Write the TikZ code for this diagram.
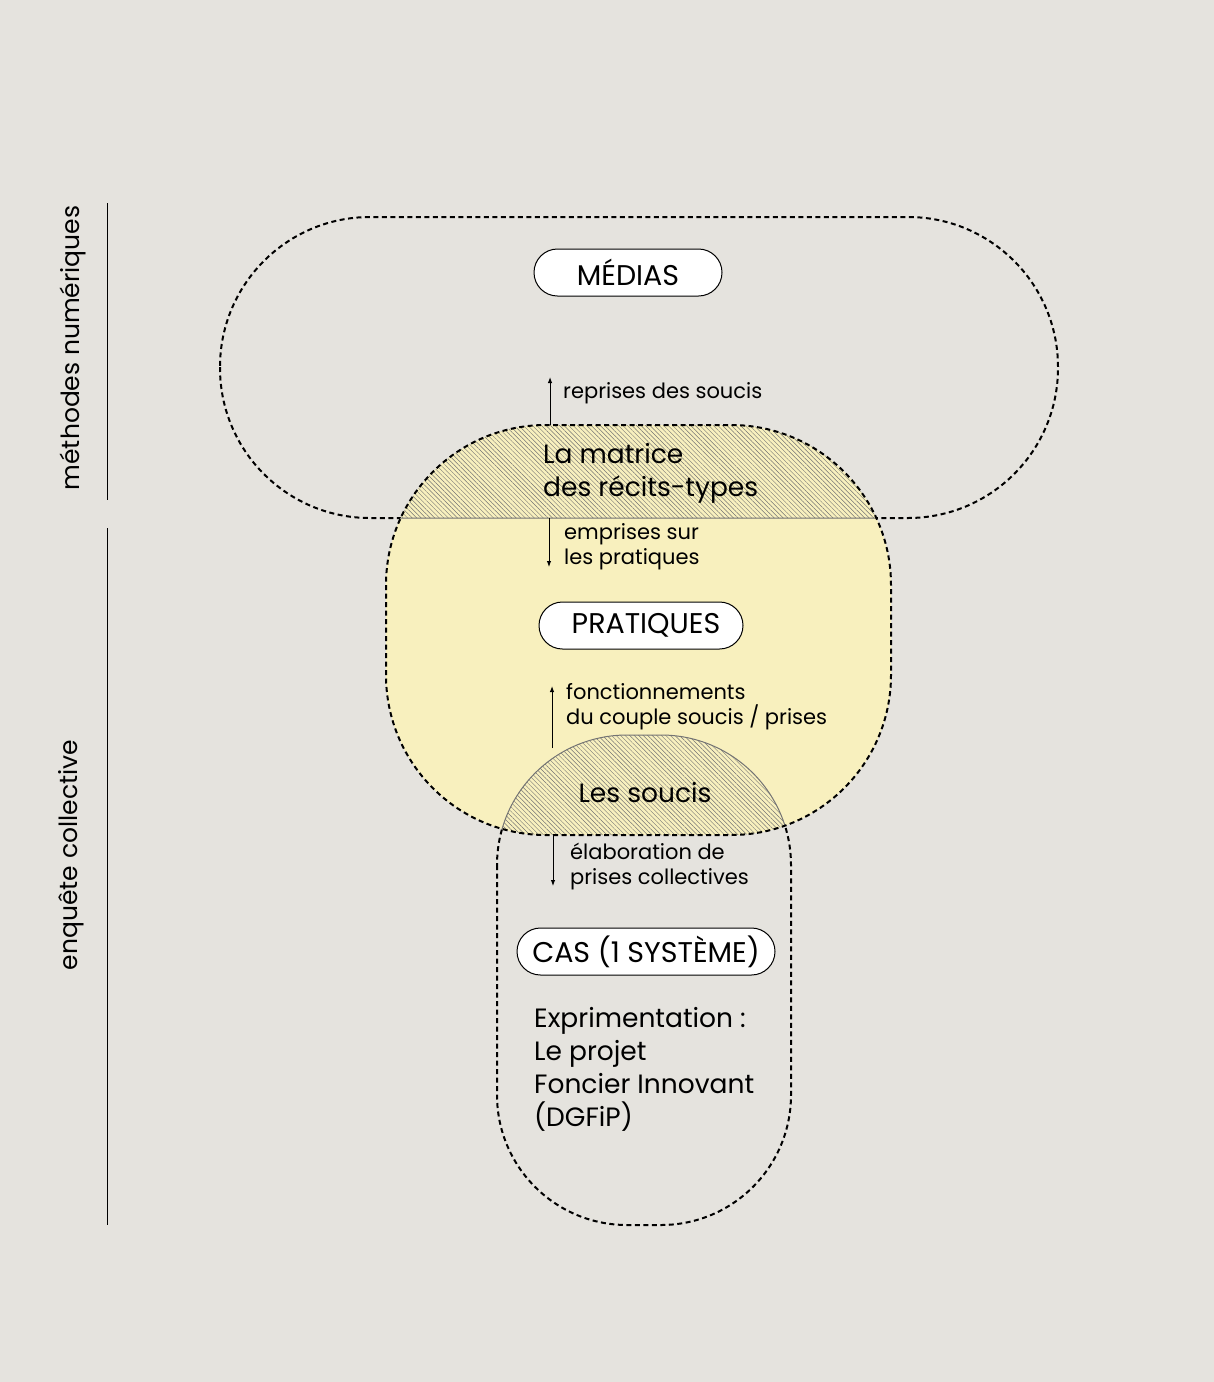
\documentclass[tikz,border=0pt]{standalone}
\usepackage{fontspec}
\setmainfont{Poppins}
\usetikzlibrary{positioning,arrows.meta,patterns.meta}
\definecolor{paper}{RGB}{229,227,222}
\definecolor{pale}{RGB}{248,240,190}

\begin{document}
\begin{tikzpicture}[
        x=1pt, y=-1pt,
        node distance=6pt,
        >={Latex[length=6pt,width=4.5pt]},
        outline/.style={draw=black, line width=2pt, dash pattern=on 5pt off 3.5pt},
        seam/.style={draw=black!55, line width=1pt},
        hatch/.style={pattern={Lines[angle=-45, distance=3.2pt, line width=0.45pt]}, pattern color=black!55},
        topzone/.style={rounded corners=150pt},
        midzone/.style={rounded corners=160pt},
        lowzone/.style={rounded corners=130pt},
        pill/.style={rectangle, rounded corners=23.5pt, draw=black, line width=1pt, fill=white, minimum height=47pt, inner sep=0pt, font=\fontsize{28.5}{34}\selectfont},
        note/.style={align=left, anchor=west, inner sep=0pt, font=\fontsize{21}{25}\selectfont},
        title/.style={align=left, anchor=west, inner sep=0pt, font=\fontsize{26.5}{33}\selectfont},
        side/.style={rotate=90, inner sep=0pt, font=\fontsize{25}{29}\selectfont},
        arrow/.style={->, line width=1pt}
    ]
    \fill[paper] (0,0) rectangle (1214,1382);
    \useasboundingbox (0,0) rectangle (1214,1382);

    % the three zones
    \draw[outline, topzone] (220,217) rectangle (1058,518);
    \draw[outline, lowzone] (497,735) rectangle (791,1225);
    \fill[pale, midzone] (386,425) rectangle (891,835);
    \begin{scope}
        \clip[midzone] (386,425) rectangle (891,835);
        \fill[hatch, topzone] (220,217) rectangle (1058,518);
        \fill[hatch, lowzone] (497,735) rectangle (791,1225);
        \draw[seam, topzone] (220,217) rectangle (1058,518);
        \draw[seam, lowzone] (497,735) rectangle (791,1225);
    \end{scope}
    \draw[outline, midzone] (386,425) rectangle (891,835);

    % side labels
    \draw[line width=1pt] (107,203) -- (107,500);
    \draw[line width=1pt] (107,528) -- (107,1225);
    \node[side] (num) at (73,348) {méthodes numériques};
    \node[side] (enq) at (71,855) {enquête collective};

    % boxes
    \node[pill, minimum width=188pt] (medias) at (628,272.5) {MÉDIAS};
    \node[pill, minimum width=204pt] (pratiques) at (641,625.5) {\hspace{10pt}PRATIQUES};
    \node[pill, minimum width=258pt] (cas) at (646,951.5) {CAS (1 SYSTÈME)};

    \node[title] (matrice) at (543,473) {La matrice\\des récits-types};
    \node[title, anchor=center] (soucis) at (645,793) {Les soucis};
    \node[title] (exp) at (534,1069.5) {Exprimentation :\\Le projet\\Foncier Innovant\\(DGFiP)};

    % flows
    \coordinate (r1) at (550,425);
    \coordinate (r2) at (550,377);
    \coordinate (e1) at (549,518);
    \coordinate (e2) at (549,567);
    \coordinate (f1) at (552,748);
    \coordinate (f2) at (552,686);
    \coordinate (l1) at (553,835);
    \coordinate (l2) at (553,886);
    \draw[arrow] (r1) -- (r2);
    \draw[arrow] (e1) -- (e2);
    \draw[arrow] (f1) -- (f2);
    \draw[arrow] (l1) -- (l2);
    \node[note] (reprises) at (563,393) {reprises des soucis};
    \node[note] (emprises) at (564,547) {emprises sur\\les pratiques};
    \node[note] (fonct) at (566,707) {fonctionnements\\du couple soucis / prises};
    \node[note] (elab) at (570,867) {élaboration de\\prises collectives};
\end{tikzpicture}
\end{document}
